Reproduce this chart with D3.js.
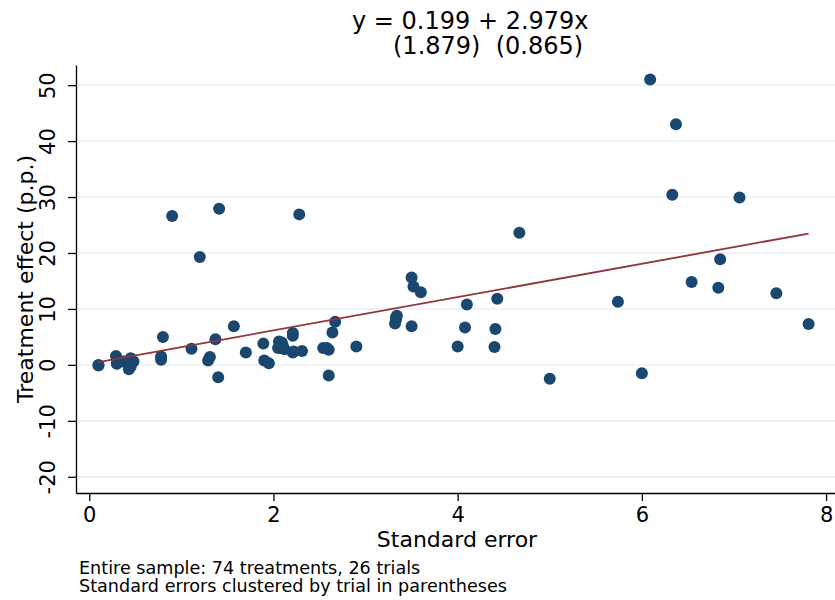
<!DOCTYPE html>
<html>
<head>
<meta charset="utf-8">
<script src="https://cdn.jsdelivr.net/npm/d3@7"></script>
<style>
  body { margin: 0; background: #fff; }
  text { font-family: "DejaVu Sans", sans-serif; }
</style>
</head>
<body>
<svg id="chart" width="835" height="600"></svg>
<script>
// standard error of each treatment
var stdErr = [
  6.09, 6.37, 6.33, 7.06, 6.85, 6.54, 6.83, 7.46, 7.81, 5.74, 6.00,
  3.50, 3.52, 3.60, 3.34, 3.33, 3.32, 3.50, 4.10, 4.08, 4.00, 4.43, 4.41, 4.40, 5.00, 4.67,
  0.90, 1.41, 2.28, 1.20,
  0.10, 0.29, 0.30, 0.37, 0.44, 0.43, 0.48, 0.80, 0.78, 0.78,
  1.11, 1.37, 1.57, 1.31, 1.29, 1.40, 1.70, 1.89, 1.90, 1.95, 2.06, 2.05,
  2.09, 2.08, 2.12, 2.21, 2.21, 2.21, 2.31, 2.67, 2.64, 2.54, 2.60, 2.90, 2.60,
  0.10, 0.30, 0.45, 0.31, 2.10, 2.22, 3.33, 2.58, 0.45
];
// treatment effect in percentage points
var effect = [
  51.0, 43.0, 30.4, 29.9, 18.9, 14.8, 13.8, 12.8, 7.3, 11.3, -1.5,
  15.6, 14.0, 13.0, 8.8, 8.0, 7.4, 6.9, 10.8, 6.7, 3.3, 11.8, 6.4, 3.2, -2.5, 23.6,
  26.6, 27.9, 26.9, 19.3,
  -0.1, 1.6, 0.3, 0.6, 0.9, -0.8, 0.6, 5.0, 1.5, 0.9,
  2.9, 4.6, 6.9, 1.4, 0.8, -2.2, 2.2, 3.8, 0.8, 0.3, 4.2, 3.0,
  4.0, 3.0, 2.8, 5.7, 5.2, 2.2, 2.5, 7.7, 5.8, 3.0, 2.7, 3.3, -1.9,
  0.0, 0.2, -0.3, 0.5, 3.5, 2.4, 8.5, 3.0, 1.2
];
var fitCoef = [0.199, 2.979];
var xTicks = [0, 2, 4, 6, 8];
var yTicks = [-20, -10, 0, 10, 20, 30, 40, 50];
var titleLines = ["y = 0.199 + 2.979x", "(1.879)  (0.865)"];
var notes = ["Entire sample: 74 treatments, 26 trials", "Standard errors clustered by trial in parentheses"];

var svg = d3.select("#chart");

var x = d3.scaleLinear().domain([-0.144, 8.097]).range([76, 835]);
var y = d3.scaleLinear().domain([-22.9, 53.6]).range([493, 65]);

// gridlines
svg.append("g")
    .selectAll("line")
    .data(yTicks)
    .enter()
    .append("line")
    .attr("x1", 76)
    .attr("x2", 835)
    .attr("y1", function(d) { return y(d); })
    .attr("y2", function(d) { return y(d); })
    .style("stroke", "#eaf2f3")
    .style("stroke-width", 1.5);

// points
var pts = d3.range(stdErr.length).map(function(i) { return {x: stdErr[i], y: effect[i]}; });
svg.append("g")
    .selectAll("circle")
    .data(pts)
    .enter()
    .append("circle")
    .attr("cx", function(d) { return x(d.x); })
    .attr("cy", function(d) { return y(d.y); })
    .attr("r", 6)
    .style("fill", "#1a476f");

// fitted line
var xr = d3.extent(stdErr);
svg.append("line")
    .attr("x1", x(xr[0]))
    .attr("y1", y(fitCoef[0] + fitCoef[1] * xr[0]))
    .attr("x2", x(xr[1]))
    .attr("y2", y(fitCoef[0] + fitCoef[1] * xr[1]))
    .style("stroke", "#90353b")
    .style("stroke-width", 1.8);

// axes
var plain = function(d) { return String(d); };
var xAxis = svg.append("g")
    .attr("transform", "translate(0,493)")
    .call(d3.axisBottom(x).tickValues(xTicks).tickFormat(plain).tickSize(8).tickSizeOuter(0));
xAxis.selectAll("text")
    .attr("y", 29)
    .attr("dy", 0)
    .style("font-size", "21px")
    .style("fill", "#000");

var yAxis = svg.append("g")
    .attr("transform", "translate(76,0)")
    .call(d3.axisLeft(y).tickValues(yTicks).tickFormat(plain).tickSize(8).tickSizeOuter(0));
yAxis.selectAll("text")
    .attr("x", 0)
    .attr("dy", 0)
    .attr("text-anchor", "middle")
    .attr("transform", "translate(-21,0) rotate(-90)")
    .style("font-size", "21px")
    .style("fill", "#000");

svg.selectAll(".domain, .tick line")
    .style("stroke", "#000")
    .style("stroke-width", 1.3);

// titles
svg.append("text")
    .attr("x", 457)
    .attr("y", 547)
    .attr("text-anchor", "middle")
    .style("font-size", "22px")
    .text("Standard error");

svg.append("text")
    .attr("transform", "translate(33,279) rotate(-90)")
    .attr("text-anchor", "middle")
    .style("font-size", "22px")
    .text("Treatment effect (p.p.)");

svg.append("text")
    .attr("x", 352)
    .attr("y", 29)
    .style("font-size", "24px")
    .text(titleLines[0]);
svg.append("text")
    .attr("x", 393)
    .attr("y", 54)
    .style("font-size", "24px")
    .style("white-space", "pre")
    .attr("xml:space", "preserve")
    .text(titleLines[1]);

svg.append("g")
    .selectAll("text")
    .data(notes)
    .enter()
    .append("text")
    .attr("x", 79)
    .attr("y", function(d, i) { return 574 + i * 17.5; })
    .style("font-size", "17.6px")
    .text(function(d) { return d; });
</script>
</body>
</html>
